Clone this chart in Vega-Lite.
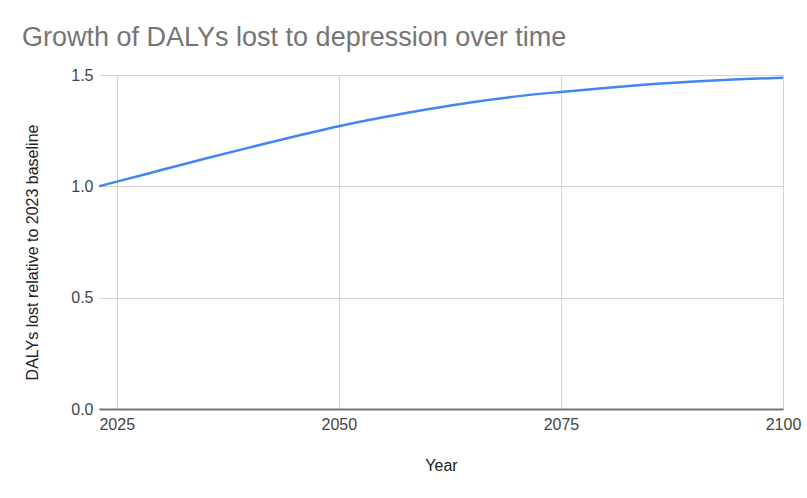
{
  "$schema": "https://vega.github.io/schema/vega-lite/v6.json",
  "autosize": "none",
  "width": 684,
  "height": 334,
  "padding": {"left": 99, "top": 75, "right": 24, "bottom": 89},
  "background": "white",
  "title": {
    "text": "Growth of DALYs lost to depression over time",
    "anchor": "start",
    "frame": "group",
    "dx": -77,
    "offset": 15,
    "fontSize": 27,
    "font": "Liberation Sans",
    "fontWeight": "normal",
    "color": "#757575"
  },
  "config": {
    "view": {"stroke": null},
    "axis": {
      "labelFont": "Liberation Sans",
      "titleFont": "Liberation Sans",
      "labelFontSize": 16,
      "titleFontSize": 16,
      "labelColor": "#444444",
      "titleColor": "#222222",
      "titleFontWeight": "normal",
      "gridColor": "#d4d4d4",
      "gridWidth": 1,
      "ticks": false
    }
  },
  "data": {
    "values": [
      {"Year": 2023, "DALYs": 1.000},
      {"Year": 2025, "DALYs": 1.021},
      {"Year": 2030, "DALYs": 1.073},
      {"Year": 2035, "DALYs": 1.125},
      {"Year": 2040, "DALYs": 1.175},
      {"Year": 2045, "DALYs": 1.224},
      {"Year": 2050, "DALYs": 1.270},
      {"Year": 2055, "DALYs": 1.310},
      {"Year": 2060, "DALYs": 1.346},
      {"Year": 2065, "DALYs": 1.378},
      {"Year": 2070, "DALYs": 1.404},
      {"Year": 2075, "DALYs": 1.424},
      {"Year": 2080, "DALYs": 1.442},
      {"Year": 2085, "DALYs": 1.458},
      {"Year": 2090, "DALYs": 1.471},
      {"Year": 2095, "DALYs": 1.481},
      {"Year": 2100, "DALYs": 1.488}
    ]
  },
  "mark": {"type": "line", "color": "#4285F4", "strokeWidth": 2.5, "interpolate": "monotone"},
  "encoding": {
    "x": {
      "field": "Year",
      "type": "quantitative",
      "scale": {"domain": [2023, 2100], "nice": false, "zero": false},
      "axis": {
        "title": "Year",
        "values": [2025, 2050, 2075, 2100],
        "format": "d",
        "labelPadding": 7,
        "titlePadding": 25,
        "labelFlush": false,
        "labelOverlap": false,
        "domainColor": "#757575",
        "domainWidth": 2
      }
    },
    "y": {
      "field": "DALYs",
      "type": "quantitative",
      "scale": {"domain": [0, 1.5], "nice": false},
      "axis": {
        "title": "DALYs lost relative to 2023 baseline",
        "titleY": 177,
        "values": [0, 0.5, 1.0, 1.5],
        "format": ".1f",
        "labelPadding": 6,
        "titlePadding": 30,
        "domain": false
      }
    }
  }
}
